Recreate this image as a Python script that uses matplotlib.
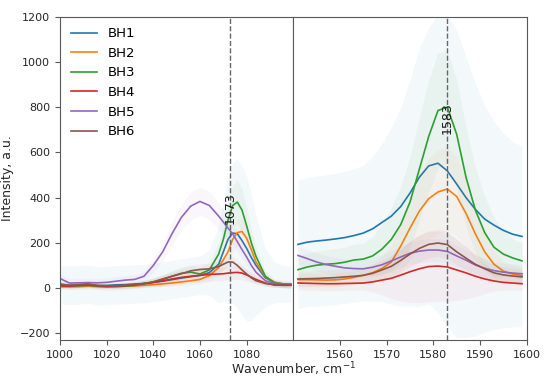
import matplotlib
matplotlib.use("Agg")
import matplotlib.pyplot as plt

labels = ["BH1", "BH2", "BH3", "BH4", "BH5", "BH6"]
colors = ["#1f77b4", "#ff7f0e", "#2ca02c", "#d62728", "#9467bd", "#8c564b"]

# left window (C-C region) and right window (G band)
wn_left = [1000, 1004, 1008, 1012, 1016, 1020, 1024, 1028, 1032, 1036, 1040, 1044, 1048, 1052, 1056,
           1060, 1064, 1068, 1070, 1072, 1074, 1076, 1078, 1080, 1082, 1084, 1088, 1092, 1096, 1099]
wn_right = [1551, 1553, 1555, 1557, 1559, 1561, 1563, 1565, 1567, 1569, 1571, 1573, 1575,
            1577, 1579, 1581, 1583, 1585, 1587, 1589, 1591, 1593, 1595, 1597, 1599]

# mean spectra, left window
bh1_l = [15, 12, 14, 16, 10, 11, 14, 15, 18, 20, 25, 30, 37, 44, 50,
         56, 68, 105, 160, 215, 243, 240, 210, 175, 135, 100, 45, 25, 18, 17]
bh2_l = [5, 5, 6, 8, 6, 6, 7, 8, 9, 12, 15, 18, 22, 27, 32,
         38, 55, 90, 125, 160, 215, 245, 250, 220, 170, 115, 50, 25, 16, 15]
bh3_l = [12, 8, 10, 12, 8, 5, 6, 8, 12, 18, 25, 38, 52, 65, 70,
         62, 80, 150, 215, 300, 365, 380, 345, 275, 200, 140, 52, 22, 15, 14]
bh4_l = [10, 8, 12, 14, 10, 8, 9, 10, 14, 20, 25, 32, 40, 47, 52,
         56, 60, 62, 63, 66, 68, 69, 66, 58, 48, 38, 22, 13, 12, 12]
bh5_l = [42, 22, 23, 24, 23, 25, 30, 35, 38, 52, 100, 160, 240, 312, 362,
         383, 365, 318, 292, 265, 240, 205, 170, 137, 100, 70, 32, 20, 18, 16]
bh6_l = [18, 12, 15, 18, 12, 10, 10, 12, 15, 20, 28, 40, 52, 63, 76,
         82, 85, 95, 105, 115, 115, 100, 80, 62, 45, 32, 20, 15, 14, 14]

# standard deviations, left window
bh1_l_sd = [85, 85, 85, 85, 85, 85, 85, 85, 85, 85, 85, 85, 85, 85, 85,
            85, 100, 170, 220, 270, 310, 330, 330, 320, 280, 220, 130, 90, 80, 80]
bh2_l_sd = [10, 10, 10, 10, 10, 10, 10, 10, 10, 10, 10, 12, 14, 16, 18,
            20, 25, 35, 45, 55, 60, 60, 58, 50, 40, 30, 18, 12, 10, 10]
bh3_l_sd = [15, 15, 15, 15, 15, 15, 15, 15, 15, 15, 18, 20, 25, 28, 30,
            30, 35, 50, 60, 75, 90, 100, 95, 80, 60, 40, 20, 15, 15, 15]
bh4_l_sd = [10, 10, 10, 10, 10, 10, 10, 10, 12, 15, 20, 25, 28, 30, 30,
            30, 30, 30, 30, 30, 30, 30, 30, 28, 22, 18, 12, 10, 10, 10]
bh5_l_sd = [20, 20, 20, 20, 20, 20, 20, 20, 20, 22, 30, 40, 50, 58, 62,
            62, 62, 58, 55, 50, 48, 45, 42, 40, 35, 30, 20, 18, 18, 18]
bh6_l_sd = [12, 12, 12, 12, 12, 12, 12, 12, 12, 14, 16, 18, 22, 25, 25,
            25, 25, 25, 25, 25, 25, 25, 22, 20, 18, 15, 12, 12, 12, 12]

# mean spectra, right window
bh1_r = [193, 203, 208, 212, 217, 223, 232, 243, 262, 290, 318, 360, 420,
         490, 540, 552, 518, 460, 400, 348, 305, 278, 255, 238, 228]
bh2_r = [37, 37, 36, 35, 36, 40, 47, 56, 68, 86, 115, 185, 265,
         340, 395, 425, 438, 405, 330, 240, 160, 105, 75, 62, 55]
bh3_r = [81, 93, 101, 105, 108, 114, 124, 128, 142, 172, 215, 280, 380,
         525, 670, 785, 800, 680, 490, 345, 245, 180, 150, 133, 120]
bh4_r = [22, 21, 20, 19, 19, 20, 21, 22, 27, 35, 43, 57, 72,
         85, 95, 97, 93, 80, 67, 52, 40, 31, 25, 22, 19]
bh5_r = [144, 130, 115, 104, 96, 89, 86, 85, 92, 103, 120, 137, 154,
         163, 168, 168, 162, 142, 123, 102, 87, 77, 70, 66, 63]
bh6_r = [40, 41, 42, 44, 46, 49, 52, 56, 65, 80, 96, 122, 150,
         175, 193, 199, 192, 160, 132, 105, 85, 67, 58, 53, 49]

# standard deviations, right window
bh1_r_sd = [285, 285, 287, 288, 290, 292, 295, 300, 320, 350, 390, 440, 500,
            570, 610, 660, 690, 680, 620, 560, 500, 460, 430, 410, 400]
bh2_r_sd = [30, 30, 30, 30, 30, 30, 30, 30, 40, 55, 75, 110, 140,
            165, 180, 185, 185, 175, 150, 120, 90, 60, 45, 40, 35]
bh3_r_sd = [60, 60, 62, 64, 66, 68, 70, 70, 85, 110, 140, 170, 200,
            230, 250, 255, 250, 240, 220, 190, 160, 130, 100, 85, 80]
bh4_r_sd = [30, 30, 30, 30, 30, 30, 30, 30, 45, 65, 90, 115, 135,
            150, 155, 155, 150, 135, 115, 90, 65, 45, 35, 30, 30]
bh5_r_sd = [40, 40, 40, 40, 40, 40, 40, 40, 42, 44, 46, 48, 50,
            50, 50, 50, 50, 48, 46, 44, 42, 40, 40, 40, 40]
bh6_r_sd = [35, 35, 35, 35, 35, 35, 35, 35, 38, 42, 48, 54, 58,
            60, 60, 60, 60, 58, 52, 46, 40, 36, 35, 35, 35]

left_means = [bh1_l, bh2_l, bh3_l, bh4_l, bh5_l, bh6_l]
left_sds = [bh1_l_sd, bh2_l_sd, bh3_l_sd, bh4_l_sd, bh5_l_sd, bh6_l_sd]
right_means = [bh1_r, bh2_r, bh3_r, bh4_r, bh5_r, bh6_r]
right_sds = [bh1_r_sd, bh2_r_sd, bh3_r_sd, bh4_r_sd, bh5_r_sd, bh6_r_sd]

peak_left = 1073
peak_right = 1583

fig = plt.figure(figsize=(5.5, 3.78), dpi=100)
ax1 = fig.add_axes([0.1091, 0.1005, 0.4242, 0.8553])
ax2 = fig.add_axes([0.5333, 0.1005, 0.4243, 0.8553], sharey=ax1)

for ax, x, means, sds in [(ax1, wn_left, left_means, left_sds),
                          (ax2, wn_right, right_means, right_sds)]:
    for lab, c, m, s in zip(labels, colors, means, sds):
        ax.plot(x, m, color=c, lw=1.2, label=lab, zorder=2)
        lo = [a - b for a, b in zip(m, s)]
        hi = [a + b for a, b in zip(m, s)]
        # band drawn over the line, like the original
        ax.fill_between(x, lo, hi, color=c, alpha=0.05, lw=0, zorder=2)
    for sp in ax.spines.values():
        sp.set_color("0.35")
    ax.tick_params(colors="0.15", labelsize=8, color="0.35")

ax1.set_xlim(1000, 1100)
ax1.set_xticks([1000, 1020, 1040, 1060, 1080])
ax2.set_xlim(1550, 1600)
ax2.set_xticks([1560, 1570, 1580, 1590, 1600])
ax1.set_ylim(-230, 1200)
ax1.set_yticks([-200, 0, 200, 400, 600, 800, 1000, 1200])
ax2.tick_params(axis="y", left=False, labelleft=False)

ax1.axvline(peak_left, color="0.4", ls="--", lw=1)
ax2.axvline(peak_right, color="0.4", ls="--", lw=1)
ax1.text(peak_left, 285, str(peak_left), rotation=90, ha="center", va="bottom", fontsize=9, color="0.1")
ax2.text(peak_right, 680, str(peak_right), rotation=90, ha="center", va="bottom", fontsize=9, color="0.1")

ax1.set_ylabel("Intensity, a.u.", fontsize=9, color="0.15")
fig.text(0.5333, 0.022, "Wavenumber, cm$^{-1}$", ha="center", va="center", fontsize=9, color="0.15")

ax1.legend(loc="upper left", frameon=False, fontsize=9.5, borderaxespad=0.4)

fig.savefig("out.png", dpi=100)
